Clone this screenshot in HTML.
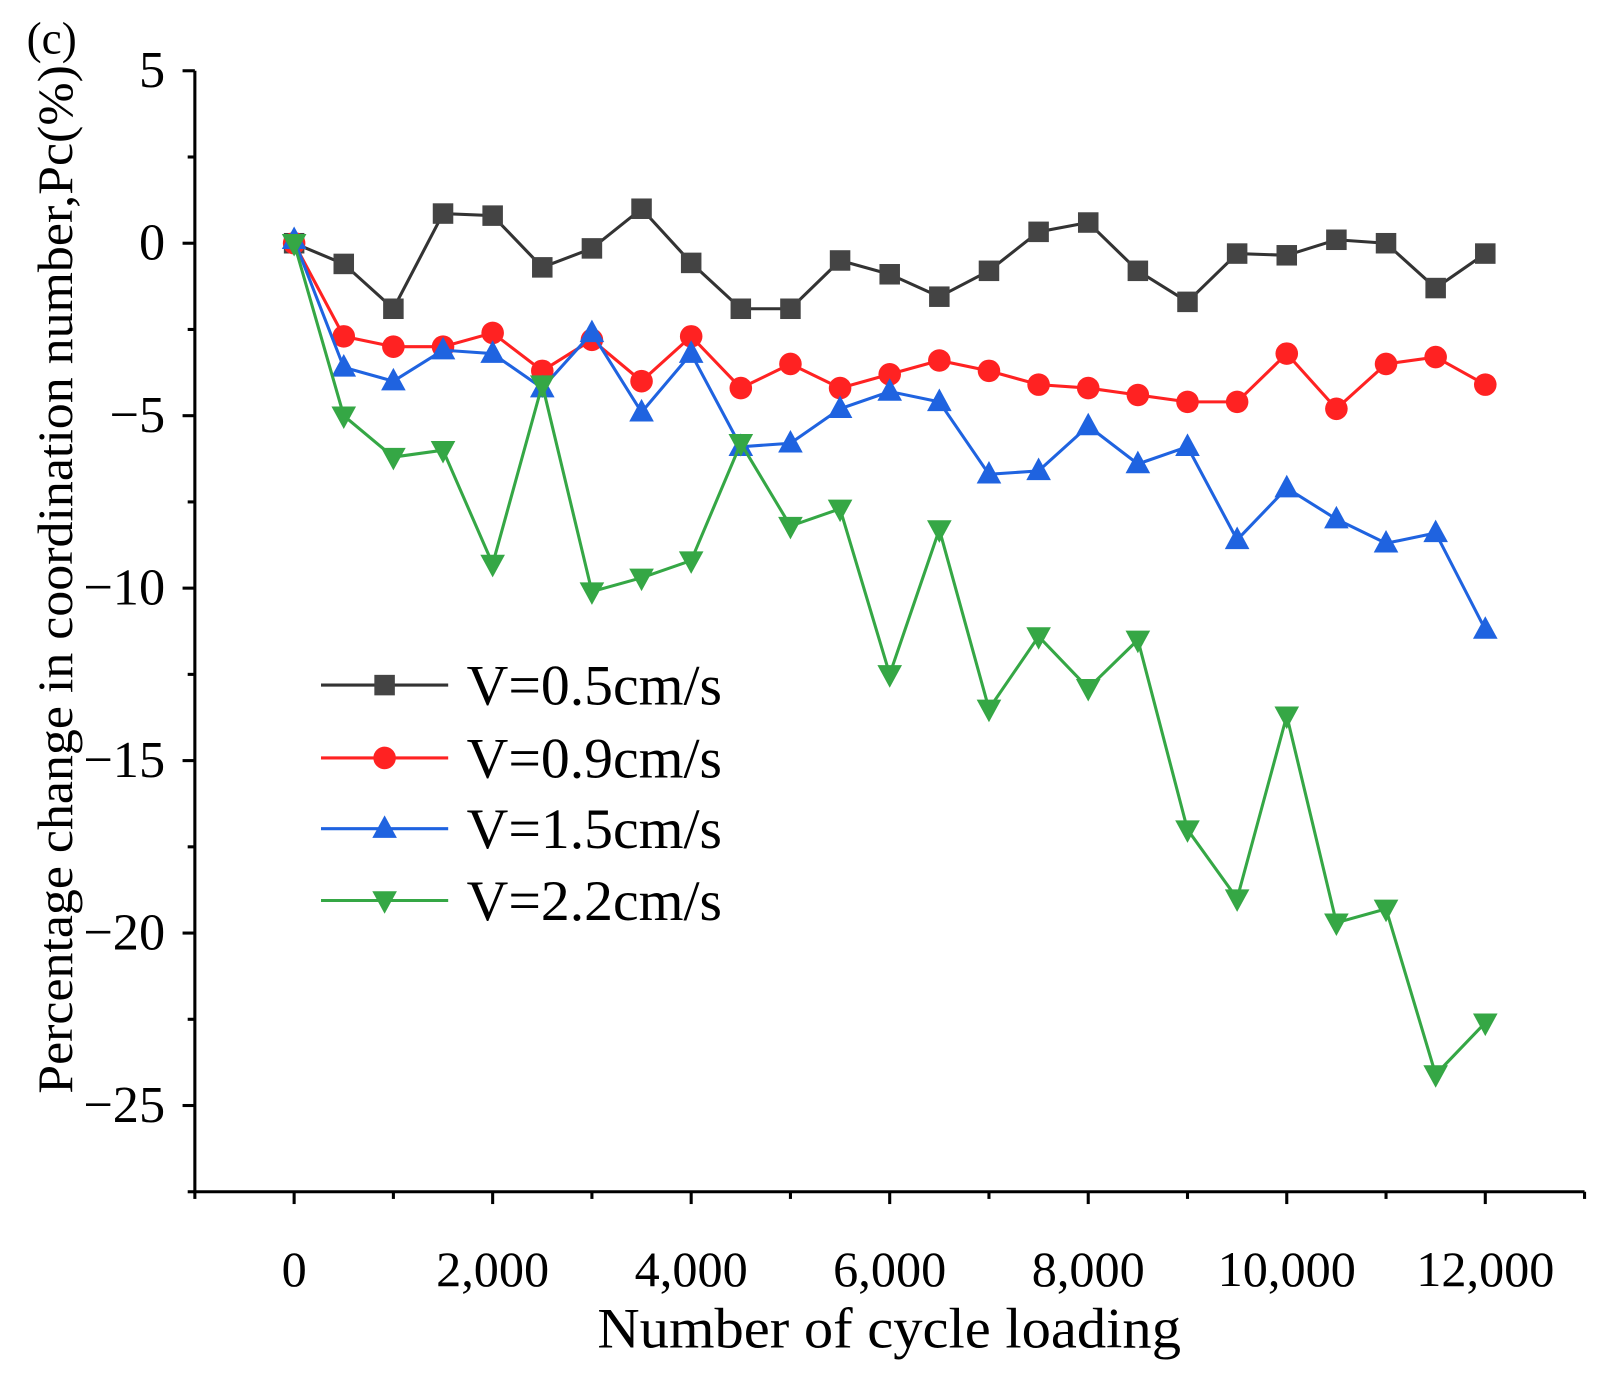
<!DOCTYPE html>
<html><head><meta charset="utf-8"><style>
html,body{margin:0;padding:0;background:#fff;}
svg{display:block;font-family:"Liberation Serif",serif;}
</style></head><body>
<svg id="chart" width="1608" height="1379" viewBox="0 0 1608 1379" xmlns="http://www.w3.org/2000/svg">
<g transform="scale(1.0256)">
<text x="26" y="52" font-size="44">(c)</text>
<g id="axes"></g>
<g id="series"></g>
<g id="legend"></g>
<text x="867" y="1314" font-size="56" text-anchor="middle" textLength="569" lengthAdjust="spacingAndGlyphs">Number of cycle loading</text>
<text transform="translate(70,565) rotate(-90)" font-size="49" text-anchor="middle" textLength="1003" lengthAdjust="spacingAndGlyphs">Percentage change in coordination number,Pc(%)</text>
</g>
</svg>
<script>
const xValues=[0,500,1000,1500,2000,2500,3000,3500,4000,4500,5000,5500,6000,6500,7000,7500,8000,8500,9000,9500,10000,10500,11000,11500,12000];
const seriesNames=["V=0.5cm/s","V=0.9cm/s","V=1.5cm/s","V=2.2cm/s"];
const v05=[0,-0.6,-1.9,0.86,0.8,-0.7,-0.15,1.0,-0.57,-1.9,-1.9,-0.5,-0.9,-1.55,-0.8,0.33,0.6,-0.8,-1.7,-0.3,-0.35,0.1,0,-1.3,-0.3];
const v09=[0,-2.7,-3.0,-3.0,-2.6,-3.7,-2.8,-4.0,-2.7,-4.2,-3.5,-4.2,-3.8,-3.4,-3.7,-4.1,-4.2,-4.4,-4.6,-4.6,-3.2,-4.8,-3.5,-3.3,-4.1];
const v15=[0.1,-3.6,-4.0,-3.1,-3.2,-4.2,-2.6,-4.9,-3.2,-5.9,-5.8,-4.8,-4.3,-4.6,-6.7,-6.6,-5.3,-6.4,-5.9,-8.6,-7.1,-8.0,-8.7,-8.4,-11.2];
const v22=[0,-5.0,-6.2,-6.0,-9.3,-4.1,-10.1,-9.7,-9.2,-5.8,-8.2,-7.7,-12.5,-8.3,-13.5,-11.4,-12.9,-11.5,-17.0,-19.0,-13.7,-19.7,-19.3,-24.1,-22.6];
const yTicks=[5,0,-5,-10,-15,-20,-25];
const xTicks=[0,2000,4000,6000,8000,10000,12000];
const xTickLabels=["0","2,000","4,000","6,000","8,000","10,000","12,000"];

const NS="http://www.w3.org/2000/svg";
const X0=190,X1=1545,Y0=69,Y1=1162,xmin=-1000,xmax=13000,ymin=-27.5,ymax=5;
const sx=v=>X0+(v-xmin)/(xmax-xmin)*(X1-X0);
const sy=v=>Y1-(v-ymin)/(ymax-ymin)*(Y1-Y0);
function mk(tag,attrs,parent){const e=document.createElementNS(NS,tag);for(const k in attrs)e.setAttribute(k,attrs[k]);parent.appendChild(e);return e;}
const axes=document.getElementById('axes');
let e=mk('line',{x1:X0,y1:Y0,x2:X0,y2:Y1,stroke:'#000','stroke-width':3},axes);


e=mk('line',{x1:X0-1.5,y1:Y1,x2:X1,y2:Y1,stroke:'#000','stroke-width':3},axes);


for(let v=5;v>=ymin;v-=2.5){const maj=Math.abs(v%5)<1e-9;
 e=mk('line',{x1:X0,y1:sy(v),x2:X0-(maj?12:7),y2:sy(v),stroke:'#000','stroke-width':3},axes);
 
 }
yTicks.forEach(v=>{e=mk('text',{x:161,y:sy(v)+16,'font-size':51,'text-anchor':'end'},axes);e.textContent=v<0?'\u2212'+(-v):String(v);
 
 });
for(let v=-1000;v<=13000;v+=1000){const maj=v%2000===0;
 e=mk('line',{x1:sx(v),y1:Y1,x2:sx(v),y2:Y1+(maj?12:7),stroke:'#000','stroke-width':3},axes);
 
 }
xTicks.forEach((v,i)=>{e=mk('text',{x:sx(v),y:1254,'font-size':49,'text-anchor':'middle'},axes);e.textContent=xTickLabels[i];
 
 });

const colors=[["#333","#444"],["#f22","#f22"],["#1f63e0","#1f63e0"],["#35a745","#35a745"]];
const shapes=["square","circle","up","down"];
function marker(g,shape,x,y,c){
 let m;
 if(shape==="square")m=mk('rect',{x:x-10,y:y-10,width:20,height:20,fill:c},g);
 else if(shape==="circle")m=mk('circle',{cx:x,cy:y,r:11,fill:c},g);
 else if(shape==="up")m=mk('polygon',{points:`${x},${y-13} ${x+12},${y+9} ${x-12},${y+9}`,fill:c},g);
 else m=mk('polygon',{points:`${x},${y+13} ${x+12},${y-9} ${x-12},${y-9}`,fill:c},g);
 return m;}
const sg=document.getElementById('series');
const all=[v05,v09,v15,v22];
all.forEach((arr,si)=>{
 const g=mk('g',{},sg);
 
 
 const pts=arr.map((v,i)=>sx(xValues[i])+','+sy(v)).join(' ');
 const pl=mk('polyline',{points:pts,fill:'none',stroke:colors[si][0],'stroke-width':3},g);
 
 
 arr.forEach((v,i)=>{const m=marker(g,shapes[si],sx(xValues[i]),sy(v),colors[si][1]);
  
  });
});
const lg=document.getElementById('legend');


const ly=[668,739,808,878];
seriesNames.forEach((n,si)=>{
 const g=mk('g',{},lg);
 
 
 mk('line',{x1:313,y1:ly[si],x2:437,y2:ly[si],stroke:colors[si][0],'stroke-width':3},g);
 marker(g,shapes[si],375,ly[si],colors[si][1]);
 const t=mk('text',{x:455,y:ly[si]+19,'font-size':56,textLength:249,lengthAdjust:'spacingAndGlyphs'},g);t.textContent=n;
});
</script>
</body></html>
